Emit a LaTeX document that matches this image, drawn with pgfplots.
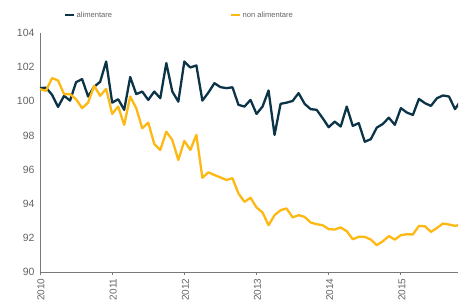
\documentclass[border=0pt]{standalone}
\usepackage{pgfplots}
\pgfplotsset{compat=1.18}
\usepackage{fontspec}
\setmainfont{Liberation Sans}
\definecolor{darkser}{RGB}{12,52,72}
\definecolor{yelser}{RGB}{253,184,19}
\definecolor{txtgray}{RGB}{100,100,100}
\definecolor{axgray}{RGB}{120,120,120}
\begin{document}
\begin{tikzpicture}[x=1pt,y=1pt]
\path[use as bounding box] (-40pt,-33pt) rectangle (419pt,272pt);
\begin{axis}[
  at={(0pt,0pt)}, anchor=south west,
  scale only axis, width=418pt, height=239pt,
  xmin=0, xmax=69.5, ymin=90, ymax=104,
  axis x line*=bottom, axis y line*=left,
  axis line style={-, draw=axgray, line width=0.8pt},
  xtick={0,12,24,36,48,60},
  xticklabels={2010,2011,2012,2013,2014,2015},
  ytick={90,92,94,96,98,100,102,104},
  /pgf/number format/assume math mode=true,
  tick label style={font=\fontsize{10.5}{12}\selectfont, text=txtgray},
  x tick label style={rotate=90, anchor=east, font=\fontsize{10}{12}\selectfont},
  ytick style={draw=none},
  xtick style={draw=axgray, line width=0.8pt},
  tick align=outside, major tick length=3pt,
  yticklabel style={xshift=1pt},
  xticklabel style={yshift=-1pt},
  legend columns=2,
  legend style={at={(0.0574,1.0753)}, anchor=west, draw=none, fill=none,
    inner sep=0pt, font=\fontsize{7.6}{9}\selectfont, text=txtgray,
    /tikz/every even column/.append style={column sep=117pt},
    nodes={inner sep=1pt}},
  legend image code/.code={\draw[line width=2.5pt] (0pt,0pt) -- (9pt,0pt);},
  every axis plot/.append style={line width=2.3pt, line join=round, no markers},
]
\addplot[darkser] coordinates {
(0,100.77)(1,100.8)(2,100.38)(3,99.67)(4,100.32)(5,100.04)(6,101.12)(7,101.3)
(8,100.28)(9,100.85)(10,101.14)(11,102.33)(12,99.92)(13,100.12)(14,99.5)(15,101.42)
(16,100.42)(17,100.57)(18,100.08)(19,100.57)(20,100.18)(21,102.24)(22,100.57)(23,99.98)
(24,102.33)(25,101.98)(26,102.1)(27,100.04)(28,100.51)(29,101.06)(30,100.83)(31,100.77)
(32,100.82)(33,99.79)(34,99.69)(35,100.08)(36,99.26)(37,99.69)(38,100.63)(39,98.03)
(40,99.85)(41,99.92)(42,100.02)(43,100.48)(44,99.85)(45,99.54)(46,99.5)(47,99.01)
(48,98.48)(49,98.81)(50,98.52)(51,99.69)(52,98.56)(53,98.72)(54,97.63)(55,97.78)
(56,98.46)(57,98.67)(58,99.04)(59,98.62)(60,99.6)(61,99.34)(62,99.2)(63,100.14)
(64,99.89)(65,99.73)(66,100.18)(67,100.34)(68,100.28)(69,99.54)(70,100.05)
};
\addlegendentry{alimentare}
\addplot[yelser] coordinates {
(0,100.71)(1,100.61)(2,101.36)(3,101.22)(4,100.42)(5,100.42)(6,100.12)(7,99.6)
(8,99.92)(9,100.91)(10,100.32)(11,100.73)(12,99.26)(13,99.69)(14,98.62)(15,100.28)
(16,99.6)(17,98.42)(18,98.75)(19,97.5)(20,97.15)(21,98.22)(22,97.73)(23,96.56)
(24,97.68)(25,97.15)(26,98.03)(27,95.52)(28,95.84)(29,95.68)(30,95.54)(31,95.39)
(32,95.49)(33,94.6)(34,94.11)(35,94.35)(36,93.78)(37,93.49)(38,92.74)(39,93.33)
(40,93.62)(41,93.72)(42,93.2)(43,93.33)(44,93.23)(45,92.9)(46,92.8)(47,92.74)
(48,92.51)(49,92.49)(50,92.61)(51,92.39)(52,91.92)(53,92.06)(54,92.06)(55,91.9)
(56,91.57)(57,91.8)(58,92.1)(59,91.9)(60,92.16)(61,92.21)(62,92.2)(63,92.7)
(64,92.68)(65,92.35)(66,92.58)(67,92.84)(68,92.78)(69,92.7)(70,92.78)
};
\addlegendentry{non alimentare}
\end{axis}
\end{tikzpicture}
\end{document}
